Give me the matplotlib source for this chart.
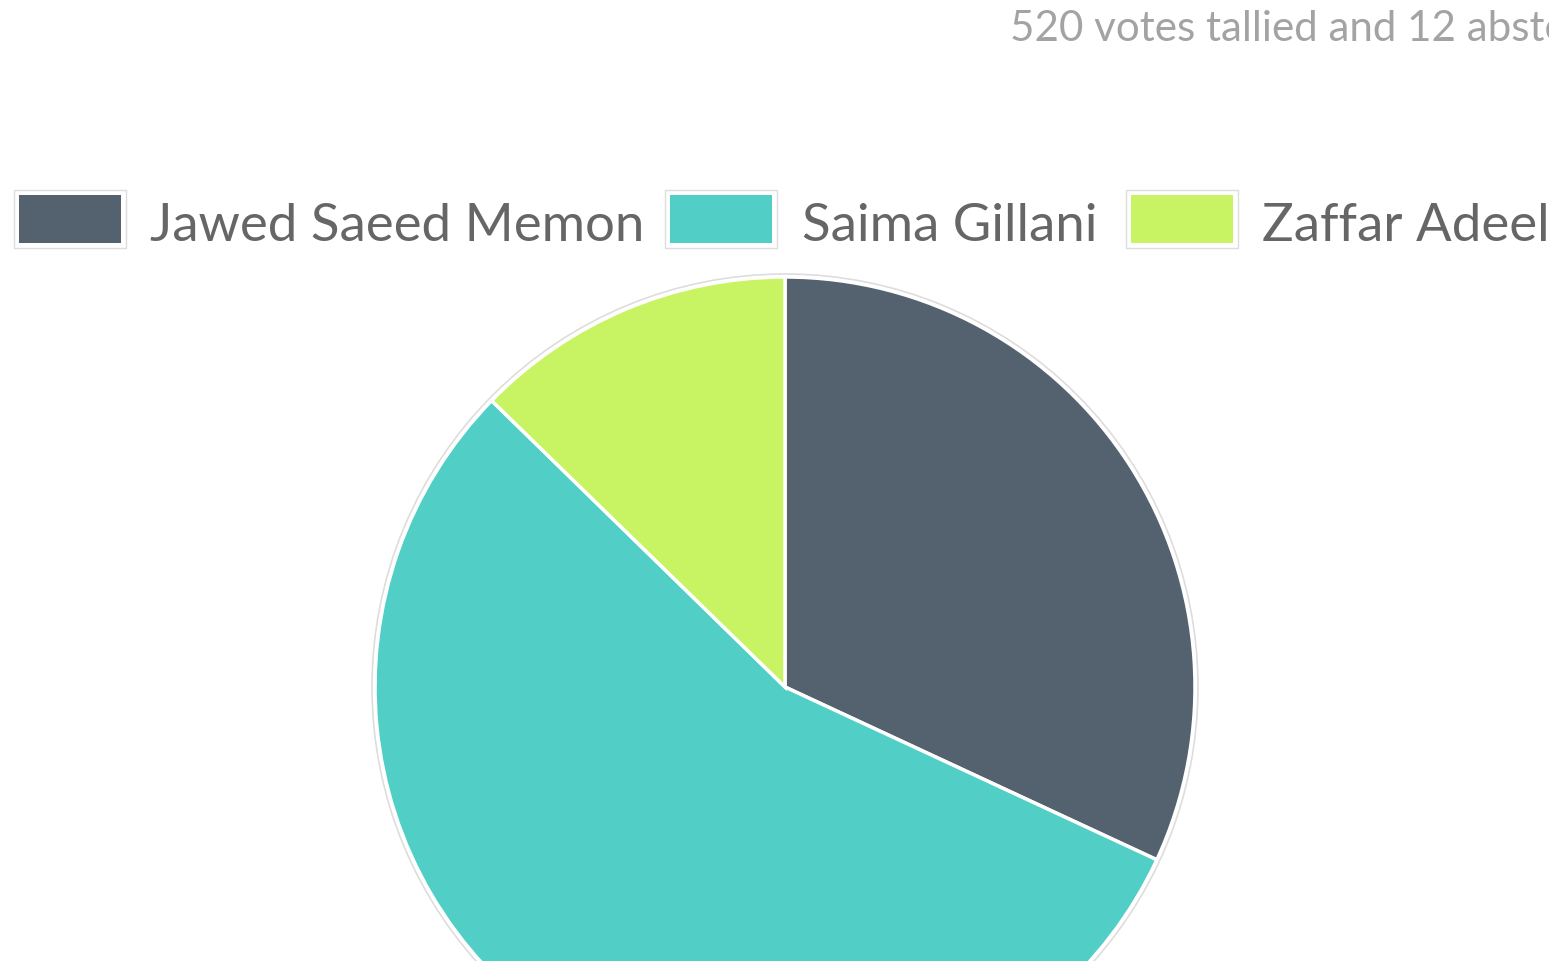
import matplotlib
matplotlib.use("Agg")
from matplotlib import pyplot as plt
from matplotlib.patches import Rectangle, Circle

plt.rcParams['font.family'] = ['Lato', 'DejaVu Sans']

candidates = ["Jawed Saeed Memon", "Saima Gillani", "Zaffar Adeel"]
votes = [166, 288, 66]
colors = ["#546270", "#51cec5", "#c8f464"]
title = "520 votes tallied and 12 abstentions"

W, H = 1549, 962
fig = plt.figure(figsize=(W / 100, H / 100), dpi=100)
ax = fig.add_axes([0, 0, 1, 1])

# pie, in pixel coords (y flipped)
cx, cy, r = 785, H - 688, 410
ax.add_patch(Circle((cx, cy), r + 3, facecolor='none', edgecolor='#dddddd', lw=1.2, zorder=1))
ax.pie(votes, colors=colors, startangle=90, counterclock=False,
       center=(cx, cy), radius=r, frame=True,
       wedgeprops=dict(edgecolor='white', linewidth=2.5))
ax.set_xlim(0, W)
ax.set_ylim(0, H)
ax.set_aspect('equal')
ax.axis('off')

# title (runs off the right edge like the reference)
fig.text(1010 / W, 1 - 41 / H, title, color='#a3a3a3', fontsize=30.3,
         ha='left', va='baseline')

# legend
box_x = [14, 665, 1126]
text_x = [150, 802, 1262]
for name, col, bx, tx in zip(candidates, colors, box_x, text_x):
    ax.add_patch(Rectangle((bx, H - 249), 112, 58, facecolor='white',
                           edgecolor='#dddddd', lw=1, zorder=3))
    ax.add_patch(Rectangle((bx + 5, H - 244), 102, 48, facecolor=col,
                           edgecolor='none', zorder=4))
    ax.text(tx, H - 241, name, color='#666666', fontsize=38,
            ha='left', va='baseline', zorder=4)

fig.savefig("out.png", dpi=100)
